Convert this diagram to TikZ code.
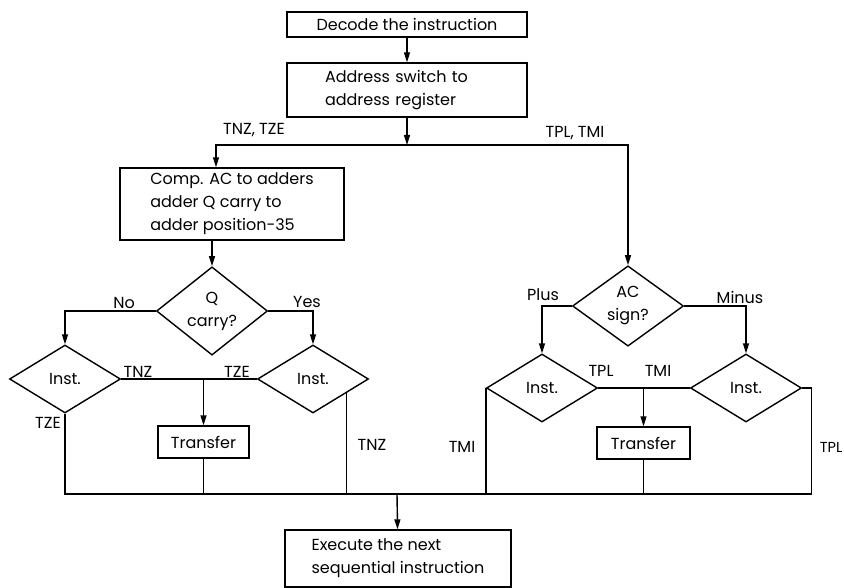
\documentclass[tikz,border=0pt]{standalone}
\usepackage{fontspec}
\setmainfont{Poppins}
\usetikzlibrary{positioning, arrows.meta, shapes.geometric, calc}

\begin{document}
\begin{tikzpicture}[x=1pt, y=-1pt, line width=1.4pt,
	font=\fontsize{16}{23}\selectfont,
	box/.style={draw, inner sep=0pt},
	decision/.style={draw, diamond, inner sep=0pt, align=center, minimum width=111pt, minimum height=68pt},
	arr/.style={-{Triangle[length=10pt, width=6pt]}}]
	\useasboundingbox (0,0) rectangle (844,588);
	
	% boxes
	\node[box, minimum width=240pt, minimum height=25pt] (decode) at (407,24.5) {Decode the instruction};
	\node[box, minimum height=54pt, text width=164pt, inner xsep=38pt, align=left] (addr) at (407,90) {Address switch to\\address register};
	\node[box, minimum width=224pt, minimum height=72pt, align=left] (comp) at (232,204) {Comp. AC to adders\\adder Q carry to\\adder position-35};
	\node[decision, minimum height=70pt] (q) at (212,311) {Q\\carry?};
	\node[decision] (ac) at (628,306) {AC\\sign?};
	\node[decision] (inst1) at (65,379) {Inst.};
	\node[decision] (inst2) at (313,379) {Inst.};
	\node[decision] (inst3) at (542,388) {Inst.};
	\node[decision] (inst4) at (746,388) {Inst.};
	\node[box, minimum width=91pt, minimum height=32pt] (tr1) at (203.5,442) {Transfer};
	\node[box, minimum width=93pt, minimum height=32pt] (tr2) at (643.5,443) {Transfer};
	\node[box, minimum width=226pt, minimum height=57pt, align=left] (exec) at (398,558.5) {Execute the next\\sequential instruction};
	
	\coordinate (fork) at (407,145);
	\coordinate (bus) at (397,494);
	\coordinate (tnz) at ($(inst2.east)!0.4!(inst2.south)$);
	
	% connectors
	\draw[arr] (decode) -- (addr);
	\draw[arr] (addr) -- (fork);
	\draw[arr] (fork) -| ([xshift=-16pt]comp.north);
	\draw[arr] (fork) -| (ac.north);
	\draw[arr] (q.north |- comp.south) -- (q.north);
	\draw[arr] (q.west) -| (inst1.north);
	\draw[arr] (q.east) -| (inst2.north);
	\draw[arr] (ac.west) -| (inst3.north);
	\draw[arr] (ac.east) -| (inst4.north);
	\draw (inst1.east) -- (inst2.west);
	\draw (inst3.east) -- (inst4.west);
	\draw[arr] (tr1.north |- inst1.east) -- (tr1.north);
	\draw[arr] (tr2.north |- inst3.east) -- (tr2.north);
	\draw (inst1.south) |- (bus);
	\draw (inst4.east) -- ++(9,0) |- (bus);
	\draw (tr1.south) -- (tr1.south |- bus);
	\draw (tnz) -- (tnz |- bus);
	\draw (inst3.west) -- (inst3.west |- bus);
	\draw (tr2.south) -- (tr2.south |- bus);
	\draw[arr] (bus) -- (exec);
	
	% labels
	\node (l-left) at (254,130) {TNZ, TZE};
	\node (l-right) at (575,133) {TPL, TMI};
	\node (l-no) at (124,303) {No};
	\node (l-yes) at (307,302) {Yes};
	\node (l-plus) at (543,295) {Plus};
	\node (l-minus) at (740,297) {Minus};
	\node (l-tnz1) at (138,372) {TNZ};
	\node (l-tze1) at (237,372) {TZE};
	\node (l-tze2) at (48,423) {TZE};
	\node (l-tnz2) at (372,445) {TNZ};
	\node (l-tpl1) at (601,371) {TPL};
	\node (l-tmi1) at (658,371) {TMI};
	\node (l-tmi2) at (462,447) {TMI};
	\node[anchor=east, inner sep=1pt, font=\fontsize{14.5}{18}\selectfont] (l-tpl2) at (844,447) {TPL};
\end{tikzpicture}
\end{document}
